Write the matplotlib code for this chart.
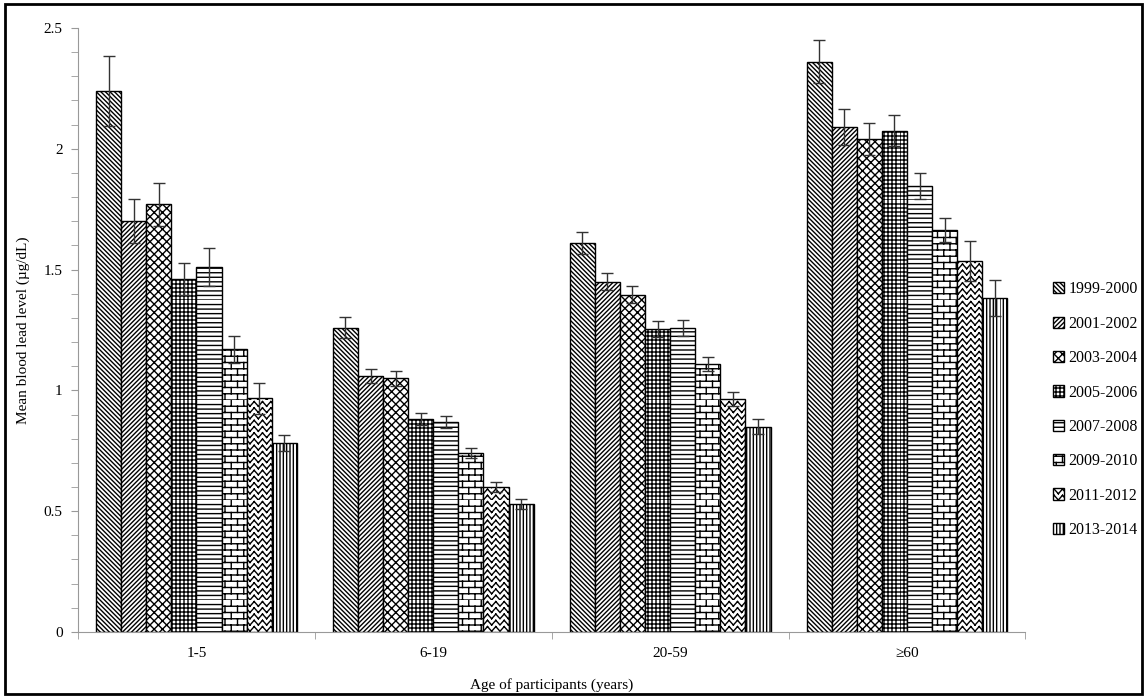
import warnings
import numpy as np
import matplotlib
matplotlib.use("Agg")
import matplotlib.pyplot as plt
from matplotlib import hatch as mhatch
from matplotlib.path import Path
from matplotlib.patches import Rectangle

warnings.filterwarnings("ignore")
plt.rcParams['font.family'] = ['Liberation Serif', 'DejaVu Serif']
plt.rcParams['hatch.linewidth'] = 1.0

# data
ages = ["1-5", "6-19", "20-59", "≥60"]
cycles = ["1999-2000", "2001-2002", "2003-2004", "2005-2006",
          "2007-2008", "2009-2010", "2011-2012", "2013-2014"]

means = {
    "1999-2000": [2.24, 1.26, 1.61, 2.36],
    "2001-2002": [1.70, 1.06, 1.45, 2.09],
    "2003-2004": [1.77, 1.05, 1.395, 2.04],
    "2005-2006": [1.46, 0.88, 1.255, 2.075],
    "2007-2008": [1.51, 0.87, 1.258, 1.845],
    "2009-2010": [1.17, 0.74, 1.11, 1.665],
    "2011-2012": [0.967, 0.60, 0.965, 1.536],
    "2013-2014": [0.784, 0.53, 0.85, 1.382],
}
errors = {
    "1999-2000": [0.145, 0.044, 0.045, 0.09],
    "2001-2002": [0.09, 0.03, 0.035, 0.075],
    "2003-2004": [0.09, 0.03, 0.035, 0.065],
    "2005-2006": [0.067, 0.025, 0.034, 0.065],
    "2007-2008": [0.079, 0.025, 0.032, 0.055],
    "2009-2010": [0.055, 0.02, 0.03, 0.05],
    "2011-2012": [0.065, 0.02, 0.03, 0.082],
    "2013-2014": [0.033, 0.022, 0.03, 0.075],
}
hatches = ['A', 'B', 'C', 'D', 'E', 'F', 'G', 'H']


# custom hatch patterns (unit square = 100 px at dpi 100)
def segments(ch):
    segs = []
    if ch in 'AC':
        n = 22 if ch == 'A' else 12
        for k in range(-n, n + 1):
            segs.append(((k / n, 1), (k / n + 1, 0)))
    if ch in 'BC':
        n = 22 if ch == 'B' else 12
        for k in range(-n, n + 1):
            segs.append(((k / n, 0), (k / n + 1, 1)))
    if ch == 'D':
        n = 25
        for k in range(n):
            segs.append(((0, k / n), (1, k / n)))
            segs.append(((k / n, 0), (k / n, 1)))
    if ch == 'E':
        n = 22
        for k in range(n):
            segs.append(((0, k / n), (1, k / n)))
    if ch == 'F':
        rows, cols = 16, 8
        for r in range(rows):
            y0, y1 = r / rows, (r + 1) / rows
            segs.append(((0, y0), (1, y0)))
            off = 0.5 * (r % 2)
            for c in range(cols + 1):
                x = (c + off) / cols
                segs.append(((x, y0), (x, y1)))
    if ch == 'G':
        rows, cols = 16, 12
        for r in range(rows):
            y0 = r / rows
            h = 0.75 / rows
            for c in range(cols):
                x0 = c / cols
                xm = x0 + 0.5 / cols
                x1 = (c + 1) / cols
                segs.append(((x0, y0), (xm, y0 + h)))
                segs.append(((xm, y0 + h), (x1, y0)))
    if ch == 'H':
        n = 30
        for k in range(n):
            segs.append(((k / n, 0), (k / n, 1)))
    return segs


class CustomHatch(mhatch.HatchPatternBase):
    def __init__(self, hatch, density):
        self.segs = []
        for ch in sorted(set(hatch)):
            self.segs += segments(ch)
        self.num_vertices = 2 * len(self.segs)

    def set_vertices_and_codes(self, vertices, codes):
        for i, (a, b) in enumerate(self.segs):
            vertices[2 * i] = a
            vertices[2 * i + 1] = b
            codes[2 * i] = Path.MOVETO
            codes[2 * i + 1] = Path.LINETO


mhatch._hatch_types.append(CustomHatch)

fig = plt.figure(figsize=(11.47, 6.98), dpi=100)
ax = fig.add_axes([0.068, 0.0946, 0.826, 0.8654])

x = np.arange(len(ages))
w = 0.106
handles = []
for i, c in enumerate(cycles):
    pos = x + (i - 3.5) * w
    b = ax.bar(pos, means[c], w, color='white', edgecolor='black',
               linewidth=1.0, label=c, zorder=2)
    for p in b.patches:
        p.set_hatch(hatches[i])
    ax.errorbar(pos, means[c], yerr=errors[c], fmt='none', ecolor='#333333',
                elinewidth=1.0, capsize=4, capthick=1.0, zorder=3)
    handles.append(b.patches[0])

ax.set_xlim(-0.5, 3.5)
ax.set_ylim(0, 2.5)
ax.set_xticks(x)
ax.set_xticklabels(ages)
ax.set_xticks(np.arange(-0.5, 4.0, 1.0), minor=True)
ax.tick_params(axis='x', which='major', length=0, labelsize=11, pad=11)
ax.tick_params(axis='x', which='minor', length=5, color='#999999')
ax.set_yticks(np.arange(0, 2.51, 0.5))
ax.set_yticklabels(['0', '0.5', '1', '1.5', '2', '2.5'])
ax.set_yticks(np.arange(0, 2.51, 0.1), minor=True)
ax.tick_params(axis='y', which='both', length=5, color='#999999', labelsize=11)
ax.tick_params(axis='y', which='major', pad=6)

for s in ['top', 'right']:
    ax.spines[s].set_visible(False)
for s in ['left', 'bottom']:
    ax.spines[s].set_color('#999999')

ax.set_xlabel("Age of participants (years)", fontsize=11, labelpad=13)
ax.set_ylabel("Mean blood lead level (µg/dL)", fontsize=11, labelpad=10)

fig.legend(handles=handles, labels=cycles, loc='center left',
           bbox_to_anchor=(0.908, 0.413), frameon=False, fontsize=11.5,
           handlelength=0.7, handleheight=0.7, handletextpad=0.3,
           labelspacing=1.15, borderpad=0.2)

fig.patches.append(Rectangle((0.004, 0.006), 0.992, 0.988,
                             transform=fig.transFigure, fill=False,
                             edgecolor='black', linewidth=2))

fig.savefig("out.png", dpi=100)
